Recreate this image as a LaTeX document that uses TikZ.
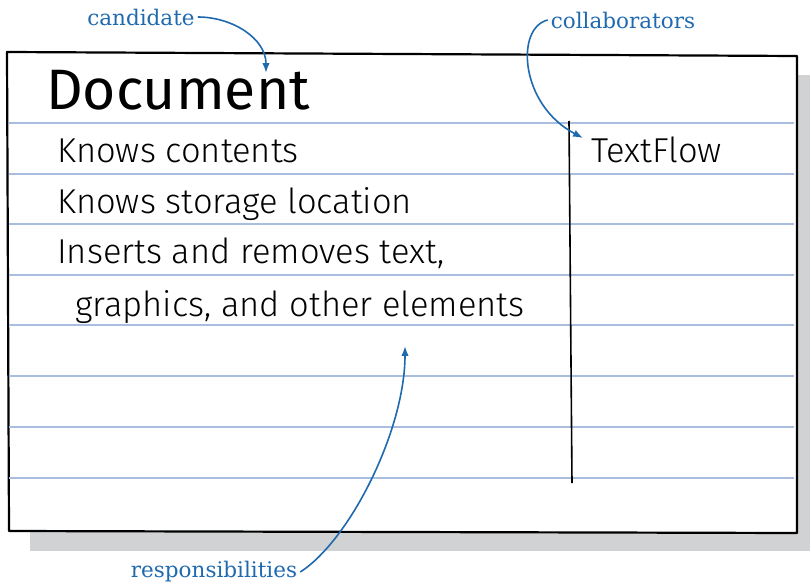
\documentclass[tikz,border=0pt]{standalone}
\usepackage{fontspec}
\usetikzlibrary{positioning,arrows.meta,calc}
\newfontfamily\handfont{Fira Sans Light}
\newfontfamily\titlefont{Fira Sans}
\newfontfamily\calloutfont{DejaVu Serif}
\definecolor{labelblue}{HTML}{1F6AAF}
\definecolor{ruleblue}{HTML}{A9BDDF}
\definecolor{shadowgray}{HTML}{D1D2D4}

\begin{document}
\begin{tikzpicture}[x=1pt, y=1pt, font=\handfont\fontsize{34.5}{34.5}\selectfont]
  \tikzset{
    hand/.style={anchor=base west, inner sep=0pt},
    callout/.style={font=\calloutfont\fontsize{21.5}{21.5}\selectfont, text=labelblue, inner sep=3pt},
    pointer/.style={draw=labelblue, line width=1.6pt, -{Latex[length=3.5mm, width=2.6mm]}}
  }
  \useasboundingbox (0,0) rectangle (811,-586);
  % card and its shadow
  \fill[shadowgray] (30,-75) rectangle (810,-551);
  \draw[fill=white, line width=2.2pt, line join=round] (7,-52) -- (797,-56) -- (797,-533) -- (9,-531) -- cycle;
  \foreach \y in {123,174,224,275,325,376,427,478}{\draw[ruleblue, line width=2pt] (9,-\y) -- (794,-\y);}
  \draw[line width=1.6pt] (569,-121) -- (572,-483);
  % card texts
  \node[hand, font=\titlefont\fontsize{57}{57}\selectfont] (title) at (46,-110) {Document};
  \node[hand] (resp1) at (57,-162) {Knows contents};
  \node[hand] (resp2) at (57,-213) {Knows storage location};
  \node[hand] (resp3) at (57,-263) {Inserts and removes text,};
  \node[hand] (resp4) at (75,-316) {graphics, and other elements};
  \node[hand] (collab1) at (591,-162) {TextFlow};
  % callouts
  \node[callout] (candidate) at (141,-17) {candidate};
  \node[callout] (collaborators) at (623,-20) {collaborators};
  \node[callout] (responsibilities) at (214,-572) {responsibilities};
  \coordinate (candtip) at (266,-73);
  \coordinate (collabtip) at (583,-138);
  \coordinate (resptip) at (405,-346);
  \draw[pointer] (candidate.east) to[out=0, in=90] (candtip);
  \draw[pointer] (collaborators.west) .. controls (515,-28) and (520,-105) .. (collabtip);
  \draw[pointer] (responsibilities.east) .. controls (350,-540) and (405,-430) .. (resptip);
\end{tikzpicture}
\end{document}
